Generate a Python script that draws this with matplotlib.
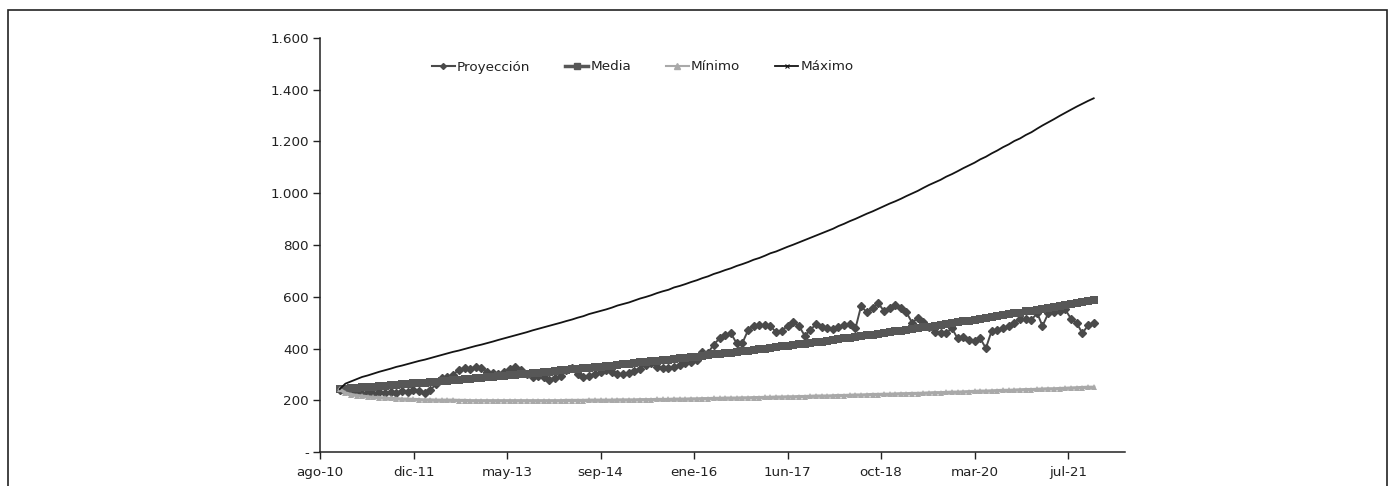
import matplotlib
matplotlib.use("Agg")
import matplotlib.pyplot as plt
import pandas as pd
from matplotlib.lines import Line2D
from matplotlib.patches import Rectangle

plt.rcParams['font.family'] = ['DejaVu Sans']

# ---------------- data ----------------
start_month = "2010-11-01"
n_points = 134

proyeccion = [240,235,227,228,225,230,226,232,228,233,
              229,236,233,240,236,228,240,262,286,290,
              298,318,324,320,328,326,310,305,303,308,
              320,327,316,300,290,292,290,280,285,293,
              315,326,300,290,293,300,308,317,310,300,
              302,304,312,322,338,343,330,323,326,328,
              335,343,346,355,385,384,415,439,452,459,
              420,420,470,488,491,491,488,462,468,488,
              503,488,450,470,495,485,480,476,482,492,494,
              478,564,540,555,575,545,555,568,555,540,
              500,517,503,485,465,459,459,478,439,446,
              432,428,439,401,468,471,478,488,500,515,
              515,512,536,487,536,540,546,551,515,498,
              459,490,497]

media = [243,245,246,248,250,251,253,255,256,258,
         260,261,263,265,267,268,270,272,274,276,
         278,279,281,283,285,287,289,291,293,295,
         297,299,301,303,305,307,309,311,313,315,
         317,319,321,323,326,328,330,332,334,337,
         339,341,343,346,348,350,353,355,357,360,
         362,364,367,369,372,374,377,379,382,384,
         387,389,392,395,397,400,403,405,408,411,
         413,416,419,422,425,427,430,433,436,439,
         442,445,448,451,454,457,460,463,466,469,
         472,475,478,482,485,488,491,495,498,501,
         505,508,511,515,518,522,525,529,532,536,
         539,543,546,550,554,557,561,565,569,572,
         576,580,584,587]

minimo = [243,228,222,218,216,213,211,210,208,207,
          206,204,204,203,202,201,201,200,200,200,
          200,199,199,198,198,198,198,198,198,198,
          198,198,198,198,198,198,198,198,198,198,
          199,199,199,199,200,200,200,200,200,201,
          201,201,201,202,202,202,203,203,203,204,
          204,204,205,205,206,206,207,207,208,208,
          208,209,209,210,210,211,211,212,212,213,
          213,214,214,215,216,216,216,217,218,218,
          219,220,220,221,222,222,223,223,224,225,
          225,226,226,227,228,229,229,230,231,231,
          232,233,234,235,235,236,237,238,238,239,
          240,241,241,242,243,244,244,245,246,247,
          248,249,250,250]

maximo = [243,264,273,282,290,296,303,310,316,322,
          329,334,340,346,352,357,363,369,375,381,
          387,392,398,404,410,415,421,427,433,439,
          445,451,457,463,470,476,482,488,494,500,
          506,512,519,525,533,539,545,551,558,566,
          572,578,585,593,599,606,614,621,627,636,
          642,649,657,664,672,679,688,695,703,710,
          719,726,734,743,750,759,768,775,784,793,
          801,810,819,828,837,845,854,863,873,882,
          892,901,911,921,930,940,950,960,969,979,
          989,999,1009,1021,1032,1042,1052,1064,1074,1085,
          1097,1108,1118,1131,1141,1154,1165,1178,1189,1202,
          1212,1225,1236,1250,1262,1274,1286,1299,1311,1323,
          1335,1346,1357,1367]

series_names = ["Proyección", "Media", "Mínimo", "Máximo"]

tick_start = "2010-08-01"
tick_step_days = 502
tick_labels = ["ago-10", "dic-11", "may-13", "sep-14", "ene-16",
               "1un-17", "oct-18", "mar-20", "jul-21"]
x_end_days = 4322

y_ticks = [0, 200, 400, 600, 800, 1000, 1200, 1400, 1600]
y_tick_labels = ["-", "200", "400", "600", "800", "1.000", "1.200", "1.400", "1.600"]

# ---------------- plot ----------------
dates = pd.date_range(start_month, periods=n_points, freq="MS") + pd.Timedelta(days=14)
t0 = pd.Timestamp(tick_start)
tick_dates = [t0 + pd.Timedelta(days=tick_step_days * k) for k in range(len(tick_labels))]

fig = plt.figure(figsize=(13.95, 4.86), dpi=100)
ax = fig.add_axes([320/1395, 1 - 452/486, 805/1395, (452 - 38)/486])

c_proj = "#4a4a4a"
c_media = "#575757"
c_min = "#a9a9a9"
c_max = "#141414"

ax.plot(dates, proyeccion, color=c_proj, lw=1.4, marker="D", ms=3.6,
        mec=c_proj, mfc=c_proj, zorder=3)
ax.plot(dates, media, color=c_media, lw=4.0, marker="s", ms=5.6,
        mew=0, mfc=c_media, zorder=4)
ax.plot(dates, minimo, color=c_min, lw=2.4, marker="^", ms=4.4,
        mew=0, mfc=c_min, zorder=5)
ax.plot(dates, maximo, color=c_max, lw=1.3, zorder=6)

ax.set_ylim(0, 1600)
ax.set_xlim(t0, t0 + pd.Timedelta(days=x_end_days))
ax.set_yticks(y_ticks)
ax.set_yticklabels(y_tick_labels)
ax.set_xticks(tick_dates)
ax.set_xticklabels(tick_labels)

for s in ["top", "right"]:
    ax.spines[s].set_visible(False)
for s in ["left", "bottom"]:
    ax.spines[s].set_color("#222222")
    ax.spines[s].set_linewidth(1.1)
ax.tick_params(axis="both", direction="out", length=5, width=1.0,
               colors="#222222", labelsize=9.7, pad=3)
ax.tick_params(axis="x", pad=5)

handles = [
    Line2D([], [], color=c_proj, lw=1.5, marker="D", ms=3),
    Line2D([], [], color=c_media, lw=2.5, marker="s", ms=5),
    Line2D([], [], color=c_min, lw=1.5, marker="^", ms=4),
    Line2D([], [], color=c_max, lw=1.3, marker="x", ms=3, mew=0.8),
]
leg = ax.legend(handles, series_names, ncol=4, frameon=False,
                loc="center left", bbox_to_anchor=(432/1395, 1 - 67/486),
                bbox_transform=fig.transFigure, fontsize=9.7,
                handlelength=1.7, handletextpad=0.15, columnspacing=2.6,
                borderpad=0, borderaxespad=0)
for t in leg.get_texts():
    t.set_color("#222222")

# outer frame
fig.patches.append(Rectangle((8/1395, -0.1), (1387 - 8)/1395, 1.1 - 10/486,
                             transform=fig.transFigure, fill=False,
                             edgecolor="#222222", lw=1.2, zorder=10))

fig.savefig("out.png", dpi=100)
